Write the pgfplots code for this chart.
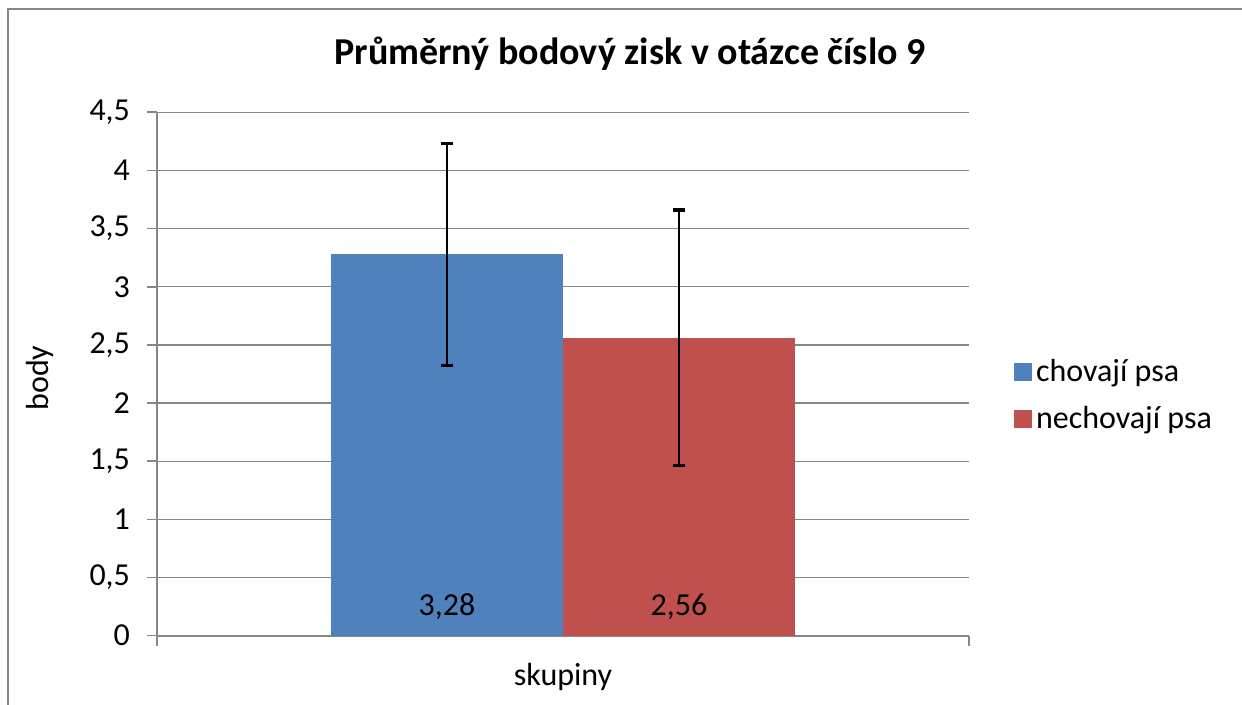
\documentclass[border=0pt]{standalone}
\usepackage{pgfplots}
\pgfplotsset{compat=1.18}
\usepackage{fontspec}
\setmainfont{Carlito}
\definecolor{barblue}{HTML}{4F81BD}
\definecolor{barred}{HTML}{C0504D}
\definecolor{gridgray}{HTML}{868686}
\definecolor{framegray}{HTML}{868686}
\begin{document}
\begin{tikzpicture}
\useasboundingbox (-78.5pt,-34.65pt) rectangle (542.5pt,317.85pt);
\draw[framegray, line width=1.2pt] (-74.5pt,-34.65pt) -- (-74.5pt,313.35pt) -- (542.5pt,313.35pt);
\begin{axis}[
  at={(0pt,0pt)}, anchor=south west,
  scale only axis, width=406pt, height=261.7pt,
  xmin=-1, xmax=1, ymin=0, ymax=4.5,
  ytick={0,0.5,...,4.5},
  xtick={-1,1}, xticklabels={,},
  axis x line=bottom, axis y line=left,
  axis line style={draw=gridgray, line width=0.8pt, -},
  x axis line style={line width=1.1pt},
  tick align=outside,
  major tick length=5pt,
  tick style={draw=gridgray, line width=0.8pt},
  ymajorgrids, grid style={draw=gridgray, line width=0.7pt},
  /pgf/number format/use comma,
  /pgf/number format/assume math mode=true,
  tick label style={font=\fontsize{16}{19}\selectfont},
  yticklabel style={anchor=east, xshift=-5pt},
  clip=false,
  legend style={at={(1.055,0.459)}, anchor=west, draw=none, fill=none,
    inner sep=0pt, font=\fontsize{16}{19}\selectfont, row sep=7pt,
    /tikz/every even column/.append style={column sep=0pt}},
  legend cell align=left,
  legend image code/.code={\fill[#1] (0pt,-4.5pt) rectangle (9pt,4.5pt);},
]
\addplot[ybar, bar width=0.5714, bar shift=0pt, fill=barblue, draw=none,
  error bars/.cd, y dir=both, y explicit, error mark=|,
  error bar style={line width=1.2pt, black},
  error mark options={line width=1.6pt, mark size=3pt, black}]
  coordinates {(-0.2857,3.28) +- (0,0.955)};
\addlegendentry{chovají psa}
\addplot[ybar, bar width=0.5714, bar shift=0pt, fill=barred, draw=none,
  error bars/.cd, y dir=both, y explicit, error mark=|,
  error bar style={line width=1.2pt, black},
  error mark options={line width=1.6pt, mark size=3pt, black}]
  coordinates {(0.2857,2.56) +- (0,1.10)};
\addlegendentry{nechovají psa}
\node[font=\fontsize{16}{19}\selectfont] at (axis cs:-0.2857,0.247) {3,28};
\node[font=\fontsize{16}{19}\selectfont] at (axis cs:0.2857,0.247) {2,56};
\end{axis}
\node[anchor=base, font=\fontsize{19}{23}\bfseries] at (236.5pt,285.35pt) {Průměrný bodový zisk v otázce číslo 9};
\node[rotate=90, font=\fontsize{16}{19}\selectfont] at (-58.5pt,128.85pt) {body};
\node[anchor=base, font=\fontsize{16}{19}\selectfont] at (203pt,-25.15pt) {skupiny};
\end{tikzpicture}
\end{document}
